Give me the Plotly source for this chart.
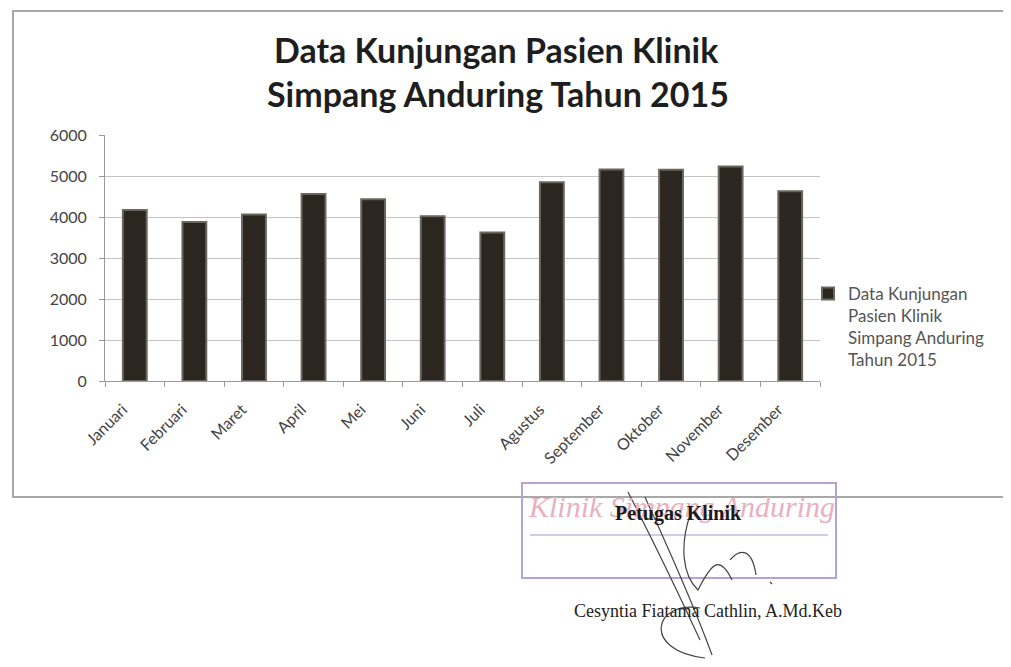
import plotly.graph_objects as go

months = ["Januari", "Februari", "Maret", "April", "Mei", "Juni", "Juli",
          "Agustus", "September", "Oktober", "November", "Desember"]
visits = [4170, 3880, 4060, 4560, 4430, 4020, 3620, 4850, 5160, 5150, 5230, 4630]
series_name = "Data Kunjungan<br>Pasien Klinik<br>Simpang Anduring<br>Tahun 2015"
title_lines = ["Data Kunjungan Pasien Klinik", "Simpang Anduring Tahun 2015"]
y_ticks = [0, 1000, 2000, 3000, 4000, 5000, 6000]

OFF = 8  # default page body margin
W, H = 1011 - OFF, 667 - OFF
L, R, T, B = 105, 820, 135, 381  # plot area in screenshot pixels


def px(x):
    return (x - L) / (R - L)


def py(y):
    return (B - y) / (B - T)


fig = go.Figure()
fig.add_trace(go.Bar(
    x=months, y=visits, name=series_name,
    marker=dict(color="#2b2620", line=dict(color="#6b665e", width=2)),
    showlegend=True,
))

fig.update_layout(
    width=W, height=H,
    margin=dict(l=L - OFF, r=W - (R - OFF), t=T - OFF, b=H - (B - OFF)),
    paper_bgcolor="white", plot_bgcolor="white",
    bargap=0.6,
    font=dict(family="Lato", color="#4a4a4a"),
    showlegend=True,
    legend=dict(x=px(808), y=py(276), xanchor="left", yanchor="top",
                font=dict(family="Lato", size=17, color="#555"),
                valign="top",
                bgcolor="rgba(0,0,0,0)", itemwidth=30, tracegroupgap=0),
    xaxis=dict(tickangle=-45, tickfont=dict(size=16, color="#444"),
               showline=True, linecolor="#9a9a9a", linewidth=1,
               ticks="outside", tickson="boundaries", ticklen=5, tickcolor="#9a9a9a",
               ticklabelstandoff=12, ticklabelshift=-12,
               showgrid=False),
    yaxis=dict(range=[0, 6000], tickvals=y_ticks, tickfont=dict(size=16, color="#444"),
               showline=True, linecolor="#9a9a9a", linewidth=1,
               ticks="outside", ticklen=5, tickcolor="#9a9a9a",
               ticklabelstandoff=9,
               gridcolor="#c4c4c4", gridwidth=1, zeroline=False),
)

# chart border
fig.add_shape(type="rect", xref="paper", yref="paper",
              x0=px(13), x1=px(1025), y0=py(497), y1=py(11),
              line=dict(color="#a8a8a8", width=2), layer="below")


def note(text, x, y, size, family="Lato", color="#1e1e1e"):
    fig.add_annotation(text=text, xref="paper", yref="paper", x=px(x), y=py(y),
                       xanchor="center", yanchor="middle", showarrow=False,
                       font=dict(family=family, size=size, color=color))


# title
note("<b>%s</b>" % title_lines[0], 496, 49, 34)
note("<b>%s</b>" % title_lines[1], 498, 94, 34)

# stamp
fig.add_shape(type="rect", xref="paper", yref="paper",
              x0=px(522), x1=px(836), y0=py(578), y1=py(483),
              line=dict(color="#b3a3d6", width=2))
fig.add_shape(type="line", xref="paper", yref="paper",
              x0=px(530), x1=px(828), y0=py(535), y1=py(535),
              line=dict(color="#c6b8e0", width=1.5))
note("<i>Klinik Simpang Anduring</i>", 681, 506, 30, "Liberation Serif", "#eab0bd")

# signature block text
note("<b>Petugas Klinik</b>", 678, 513, 20, "Liberation Serif", "#1a1a1a")
note("Cesyntia Fiatama Cathlin, A.Md.Keb", 708, 611, 18, "Liberation Serif", "#222")

# signature scribble
sig = ("M 628 492 C 645 525, 670 575, 700 640 M 645 497 C 662 535, 688 590, 712 655 "
       "M 690 515 C 680 545, 682 575, 698 590 C 712 562, 720 555, 732 580 "
       "M 730 560 C 740 548, 752 548, 756 575 M 700 608 C 655 600, 640 650, 705 658 "
       "M 770 582 L 772 584")


def conv_path(p):
    toks = p.replace(",", " ").split()
    out, nums = [], []
    for t in toks:
        if t.isalpha():
            out.append(t)
        else:
            nums.append(float(t))
            if len(nums) == 2:
                out.append("%.4f,%.4f" % (px(nums[0]), py(nums[1])))
                nums = []
    return " ".join(out)


fig.add_shape(type="path", xref="paper", yref="paper", path=conv_path(sig),
              line=dict(color="#444", width=1.2))

fig.write_html("out.html")
